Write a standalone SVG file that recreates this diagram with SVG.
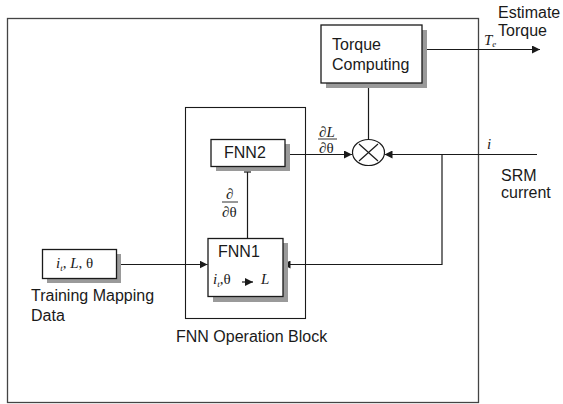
<svg xmlns="http://www.w3.org/2000/svg" width="563" height="404" viewBox="0 0 563 404">
<style>
.ln{stroke:#1a1a1a;stroke-width:1.2;fill:none}
.bx{fill:#fff;stroke:#1a1a1a;stroke-width:1.3}
.sh{fill:#9a9a9a;stroke:none}
.t{font-family:"Liberation Sans",Arial,sans-serif;font-size:16px;fill:#1a1a1a}
.m{font-family:"Liberation Serif","Times New Roman",serif;font-size:15px;fill:#1a1a1a}
.it{font-style:italic}
</style>
<defs>
<marker id="ah" viewBox="0 0 10 10" refX="10" refY="5" markerWidth="8" markerHeight="8" markerUnits="userSpaceOnUse" orient="auto">
<path d="M0,0 L10,5 L0,10 z" fill="#1a1a1a"/>
</marker>
</defs>
<rect width="563" height="404" fill="#fff"/>
<rect id="outer" x="7.5" y="18.5" width="471" height="384" fill="none" stroke="#444" stroke-width="1.3"/>
<g id="fnn-block">
<rect x="185.5" y="107.5" width="120" height="211" fill="none" stroke="#1a1a1a" stroke-width="1.1"/>
<text class="t" x="176" y="342">FNN Operation Block</text>
</g>
<g id="connectors">
<line class="ln" x1="423" y1="49.5" x2="540" y2="49.5" marker-end="url(#ah)"/>
<line class="ln" x1="368.5" y1="83" x2="368.5" y2="140.5"/>
<line class="ln" x1="285" y1="154.5" x2="352" y2="154.5" marker-end="url(#ah)"/>
<line class="ln" x1="537" y1="154.5" x2="384.5" y2="154.5" marker-end="url(#ah)"/>
<polyline class="ln" points="442,154.5 442,264.5 282.5,264.5" marker-end="url(#ah)"/>
<line class="ln" x1="117" y1="264.5" x2="207.5" y2="264.5" marker-end="url(#ah)"/>
<line class="ln" x1="247.5" y1="172" x2="247.5" y2="238.5"/>
<line class="ln" x1="244" y1="172" x2="251" y2="172"/>
</g>
<g id="torque">
<rect class="sh" x="326" y="30" width="101" height="58"/>
<rect class="bx" x="321" y="25" width="101" height="58"/>
<text class="t" x="332" y="50">Torque</text>
<text class="t" x="332" y="70">Computing</text>
</g>
<g id="mult">
<ellipse cx="368.5" cy="152.5" rx="16" ry="13" fill="#fff" stroke="#1a1a1a" stroke-width="1.2"/>
<line class="ln" x1="359" y1="144" x2="378" y2="161"/>
<line class="ln" x1="378" y1="144" x2="359" y2="161"/>
</g>
<g id="fnn2">
<rect class="sh" x="216" y="144" width="74" height="27"/>
<rect class="bx" x="211" y="139.5" width="74" height="27"/>
<text class="t" x="224" y="158">FNN2</text>
</g>
<g id="fnn1">
<rect class="sh" x="213" y="243" width="75" height="59"/>
<rect class="bx" x="208" y="238.5" width="75" height="58"/>
<text class="t" x="218" y="257">FNN1</text>
<text class="m" x="213" y="284"><tspan class="it">i</tspan><tspan class="it" font-size="9" dy="3">t</tspan><tspan dy="-3">,θ</tspan></text>
<line class="ln" x1="242" y1="282" x2="253" y2="282" marker-end="url(#ah)"/>
<text class="m it" x="261" y="284">L</text>
</g>
<g id="input">
<rect class="sh" x="47" y="254" width="74" height="29"/>
<rect class="bx" x="42.5" y="249.5" width="74" height="29"/>
<text class="m" x="56" y="268"><tspan class="it">i</tspan><tspan class="it" font-size="9" dy="3">t</tspan><tspan dy="-3">, </tspan><tspan class="it">L</tspan>, θ</text>
<text class="t" x="31" y="301">Training Mapping</text>
<text class="t" x="31" y="321">Data</text>
</g>
<g id="labels">
<text class="m" x="319" y="136.5" font-size="16"><tspan>∂</tspan><tspan class="it">L</tspan></text>
<line x1="318" y1="139" x2="337" y2="139" stroke="#1a1a1a" stroke-width="0.9"/>
<text class="m" x="319" y="153" font-size="16">∂θ</text>
<text class="m" x="226" y="199" font-size="16">∂</text>
<line x1="222" y1="202" x2="238" y2="202" stroke="#1a1a1a" stroke-width="0.9"/>
<text class="m" x="222" y="216.5" font-size="16">∂θ</text>
<text class="m it" x="484" y="45">T<tspan font-size="9" dy="1.5">e</tspan></text>
<text class="m it" x="487" y="149">i</text>
<text class="t" x="498" y="18">Estimate</text>
<text class="t" x="498" y="36">Torque</text>
<text class="t" x="501" y="181">SRM</text>
<text class="t" x="501" y="198">current</text>
</g>
</svg>
